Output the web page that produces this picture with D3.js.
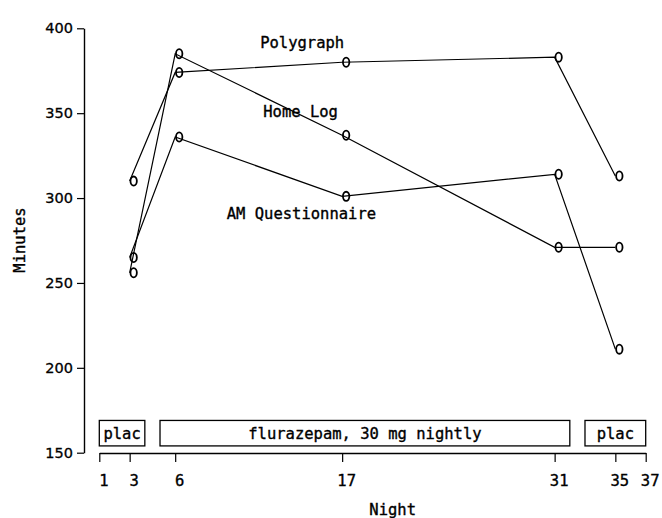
<!DOCTYPE html>
<html><head><meta charset="utf-8">
<script src="https://cdn.jsdelivr.net/npm/d3@7"></script>
<style>
body{margin:0;background:#fff;}
svg{display:block;}
.mono{font-family:"DejaVu Sans Mono",monospace;font-size:15.5px;fill:#000;stroke:#000;stroke-width:0.35px;}
</style></head>
<body>
<script>
// ---- data ----
const nights = [3, 6, 17, 31, 35];
const polygraph = [310, 374, 380, 383, 313];
const homeLog = [256, 385, 337, 271, 271];
const amQuestionnaire = [265, 336, 301, 314, 211];
const seriesNames = ["Polygraph", "Home Log", "AM Questionnaire"];
const labelNight = [11.6, 11.8, 9.4];
const labelValue = [388.6, 347.6, 287.5];
const xTicks = [1, 3, 6, 17, 31, 35, 37];
const yTicks = [150, 200, 250, 300, 350, 400];
const periodNames = ["plac", "flurazepam, 30 mg nightly", "plac"];
const periodStart = [1, 5, 33];
const periodEnd = [4, 32, 37];
const periodLow = 154;
const periodHigh = 169;

const W = 662, H = 518;
const svg = d3.select("body").append("svg").attr("width", W).attr("height", H);

const x = d3.scaleLinear().domain([1, 37]).range([99.3, 645.7]);
const y = d3.scaleLinear().domain([150, 400]).range([452.7, 28.3]);

// y axis
const ya = svg.append("g").attr("transform", "translate(84,0)")
  .call(d3.axisLeft(y).tickValues(yTicks).tickSize(7).tickSizeOuter(0).tickPadding(4));
ya.select(".domain").attr("stroke", "#000").attr("stroke-width", 1.4);
ya.selectAll(".tick line").attr("stroke", "#000").attr("stroke-width", 1.2);
ya.selectAll(".tick text").attr("font-family", "DejaVu Sans").attr("font-size", "14.5px")
  .attr("fill", "#000").attr("stroke", "#000").attr("stroke-width", 0.3);

// x axis
const xa = svg.append("g").attr("transform", "translate(0,453)")
  .call(d3.axisBottom(x).tickValues(xTicks).tickSize(9).tickSizeOuter(0).tickPadding(13));
xa.select(".domain").attr("stroke", "#000").attr("stroke-width", 1.4);
xa.selectAll(".tick line").attr("stroke", "#000").attr("stroke-width", 1.2);
xa.selectAll(".tick text").attr("class", "mono").attr("font-family", null).attr("font-size", null).attr("dx", 4);

// axis titles
svg.append("text").attr("class", "mono").attr("x", 392.7).attr("y", 515).attr("text-anchor", "middle").text("Night");
svg.append("text").attr("class", "mono").attr("transform", "translate(25,240) rotate(-90)").attr("text-anchor", "middle").text("Minutes");

// period boxes
periodNames.forEach((name, i) => {
  svg.append("rect")
    .attr("x", x(periodStart[i])).attr("y", y(periodHigh))
    .attr("width", x(periodEnd[i]) - x(periodStart[i]))
    .attr("height", y(periodLow) - y(periodHigh))
    .attr("fill", "none").attr("stroke", "#000").attr("stroke-width", 1.3);
  svg.append("text").attr("class", "mono")
    .attr("x", (x(periodStart[i]) + x(periodEnd[i])) / 2)
    .attr("y", (y(periodLow) + y(periodHigh)) / 2 + 6)
    .attr("text-anchor", "middle").text(name);
});

// series
const allSeries = [polygraph, homeLog, amQuestionnaire];
const line = d3.line().x((d, i) => x(nights[i])).y(d => y(d));
allSeries.forEach((vals, s) => {
  svg.append("path").datum(vals).attr("d", line)
    .attr("fill", "none").attr("stroke", "#000").attr("stroke-width", 1.2);
  svg.selectAll(null).data(vals).enter().append("ellipse")
    .attr("cx", (d, i) => x(nights[i]) + 4).attr("cy", d => y(d))
    .attr("rx", 3.2).attr("ry", 4.6)
    .attr("fill", "none").attr("stroke", "#000").attr("stroke-width", 1.8);
  svg.append("text").attr("class", "mono")
    .attr("x", x(labelNight[s])).attr("y", y(labelValue[s]))
    .text(seriesNames[s]);
});
</script>
</body></html>
